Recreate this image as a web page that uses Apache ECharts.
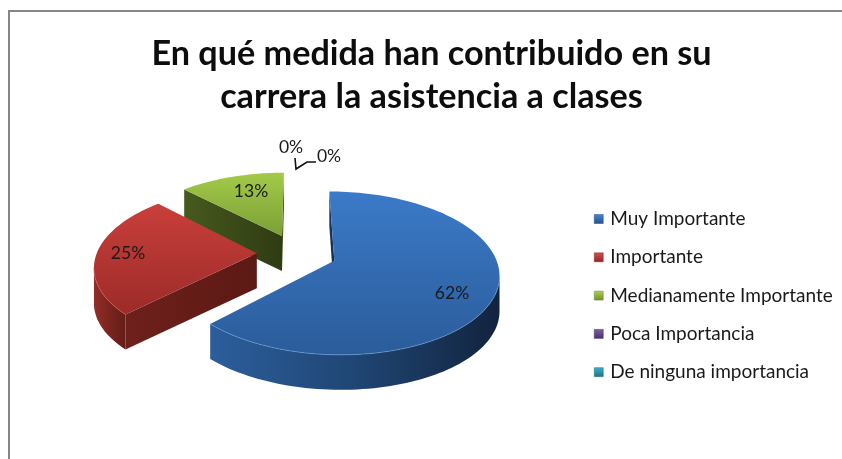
<!DOCTYPE html>
<html>
<head>
<meta charset="utf-8">
<script src="https://cdn.jsdelivr.net/npm/echarts@6/dist/echarts.min.js"></script>
<style>html,body{margin:0;padding:0;background:#fff}#c{width:842px;height:459px}</style>
</head>
<body>
<div id="c"></div>
<script>
var titleLines = ['En qué medida han contribuido en su', 'carrera la asistencia a clases'];
var categories = ['Muy Importante', 'Importante', 'Medianamente Importante', 'Poca Importancia', 'De ninguna importancia'];
var values = [62.5, 25, 12.5, 0, 0];
var percentLabels = ['62%', '25%', '13%', '0%', '0%'];

// styling and layout
var topColors = [['#3b7ac9', '#2b5c9a'], ['#c93f3b', '#9c2b29'], ['#a3ca49', '#7b9f36'], ['#6a4a90', '#543a74'], ['#2f9cb8', '#247c93']];
var rimColors = ['#6f9fdb', '#d9625d', '#b5d66a', '#8a6ab0', '#55b8d0'];
var outerSide = [['#2c5e9c', '#1f4674', '#12233e'], ['#932d28', '#7a241f', '#651d18'], ['#4a5e20', '#3f5019', '#334114'], ['#40305a', '#40305a', '#40305a'], ['#1c6070', '#1c6070', '#1c6070']];
var radialSide = [['#1a3a62', '#12284a'], ['#6e201b', '#5c1914'], ['#465a1e', '#2f3b12'], ['#40305a', '#40305a'], ['#1c6070', '#1c6070']];
var legendColors = [['#4a86cf', '#24508a'], ['#d4504b', '#8f2724'], ['#acd051', '#6f8f2e'], ['#7e5ca6', '#4a3268'], ['#3eb0cc', '#1f7186']];
var labelAnchors = [[452, 293], [128, 253], [251, 191], [291, 147], [329, 156]];
var leaderPath = [[295, 158], [296, 169], [307, 162], [316, 162]];
var FONT = 'Lato, "Open Sans", sans-serif';

// projection of the tilted pie plane onto the page
var CX = 296.8, CY = 253.2, RX = 160, RY = 77.5, PERSP = 0.15, DEPTH = 35, EXPLODE = 0.25;
function project(x, v) {
  var s = 1 / (1 - PERSP * v);
  return [CX + RX * x * s, CY + RY * v * s];
}
var total = values.reduce(function (a, b) { return a + b; }, 0);
function area(p) {
  var s = 0;
  p.forEach(function (a, i) { var b = p[(i + 1) % p.length]; s += a[0] * b[1] - b[0] * a[1]; });
  return s;
}
function down(p) { return [p[0], p[1] + DEPTH]; }
function gradient(stops, vertical) {
  return { type: 'linear', x: 0, y: 0, x2: vertical ? 0 : 1, y2: vertical ? 1 : 0,
    colorStops: stops.map(function (c, i) { return { offset: i / (stops.length - 1), color: c }; }) };
}

function sliceShapes(idx) {
  var before = values.slice(0, idx).reduce(function (a, b) { return a + b; }, 0);
  var a0 = before / total * Math.PI * 2, a1 = (before + values[idx]) / total * Math.PI * 2;
  var mid = (a0 + a1) / 2;
  var ox = EXPLODE * Math.sin(mid), ov = -EXPLODE * Math.cos(mid);
  var apex = project(ox, ov), rim = [];
  var n = Math.max(4, Math.round((a1 - a0) / 0.03));
  for (var i = 0; i <= n; i++) {
    var t = a0 + (a1 - a0) * i / n;
    rim.push(project(ox + Math.sin(t), ov - Math.cos(t)));
  }
  var kids = [];
  // radial faces
  [[apex, rim[0]], [rim[n], apex]].forEach(function (e) {
    var quad = [e[0], e[1], down(e[1]), down(e[0])];
    if (area(quad) < 0) {
      kids.push({ type: 'polygon', shape: { points: quad }, style: { fill: gradient(radialSide[idx], false) } });
    }
  });
  // outer wall: the part of the rim that faces the viewer
  var front = [];
  for (var j = 0; j < n; j++) {
    if (area([rim[j], rim[j + 1], down(rim[j + 1]), down(rim[j])]) < 0) {
      if (!front.length) front.push(rim[j]);
      front.push(rim[j + 1]);
    }
  }
  if (front.length) {
    var wall = front.concat(front.slice().reverse().map(down));
    kids.push({ type: 'polygon', shape: { points: wall }, style: { fill: gradient(outerSide[idx], false) } });
  }
  // top face
  kids.push({ type: 'polygon', shape: { points: [apex].concat(rim) }, style: { fill: gradient(topColors[idx], true) } });
  if (front.length) {
    kids.push({ type: 'polyline', shape: { points: front }, style: { fill: 'none', stroke: rimColors[idx], lineWidth: 1, opacity: 0.6 } });
  }
  return kids;
}

var depthOrder = [3, 2, 1, 1, 1];
var series = categories.map(function (name, idx) {
  return {
    type: 'custom', name: name, coordinateSystem: 'none', z: depthOrder[idx] + 2, silent: true,
    itemStyle: { color: topColors[idx][0] },
    data: [[values[idx]]],
    renderItem: function () {
      var kids = values[idx] > 0 ? sliceShapes(idx) : [];
      if (idx === 3) {
        kids.push({ type: 'polyline', shape: { points: leaderPath }, style: { fill: 'none', stroke: '#111', lineWidth: 1.6 } });
      }
      kids.push({ type: 'text', z2: 10, style: {
        text: percentLabels[idx],
        x: labelAnchors[idx][0], y: labelAnchors[idx][1],
        align: 'center', verticalAlign: 'middle', fill: '#1a1a1a', font: '17.5px ' + FONT } });
      return { type: 'group', children: kids };
    }
  };
});

var chart = echarts.init(document.getElementById('c'), null, { renderer: 'canvas' });
chart.setOption({
  animation: false,
  backgroundColor: '#ffffff',
  title: {
    text: titleLines.join('\n'), left: 426.5, top: 27, textAlign: 'center',
    textStyle: { fontFamily: FONT, fontWeight: 'bold', fontSize: 34.2, lineHeight: 43, color: '#0d0d0d' }
  },
  legend: {
    orient: 'vertical', left: 589, top: 204, itemWidth: 9, itemHeight: 9, itemGap: 18.3, selectedMode: false,
    icon: 'rect',
    textStyle: { fontFamily: FONT, fontSize: 19, lineHeight: 20, color: '#1a1a1a', padding: [0, 0, 0, 2] },
    data: categories.map(function (name, i) {
      return { name: name, itemStyle: { borderColor: legendColors[i][1], borderWidth: 0.5, color: gradient(legendColors[i], true) } };
    })
  },
  graphic: [{ type: 'polyline', silent: true, z: 0,
    shape: { points: [[9, 459], [9, 11], [842, 11]] },
    style: { fill: 'none', stroke: '#868686', lineWidth: 2 } }],
  series: series
});
</script>
</body>
</html>
